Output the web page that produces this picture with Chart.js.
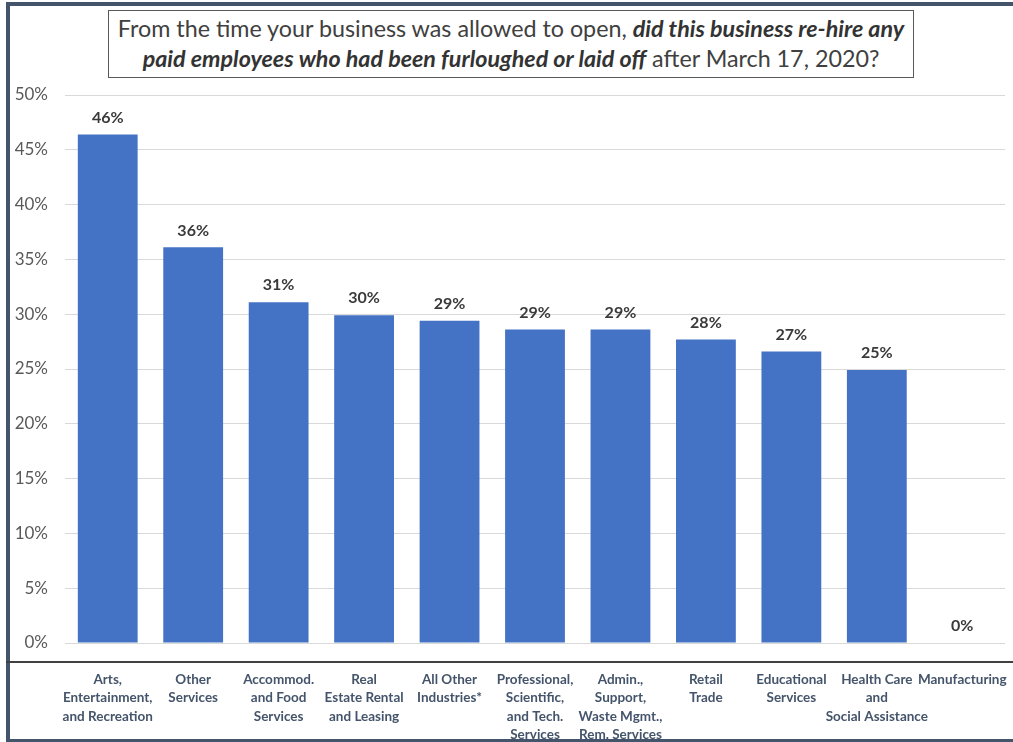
<!DOCTYPE html>
<html>
<head>
<meta charset="utf-8">
<script src="https://cdn.jsdelivr.net/npm/chart.js@4/dist/chart.umd.min.js"></script>
<style>
  html, body { margin: 0; padding: 0; background: #ffffff; }
  #wrap { position: relative; width: 1013px; height: 742px; overflow: hidden; }
  #chart { position: absolute; left: 0; top: 0; }
  #title {
    position: absolute; left: 108px; top: 10px; width: 804px; height: 64px;
    border: 1px solid #595959; background: #ffffff;
    font-family: Lato, "Noto Sans", sans-serif; font-size: 23.3px; line-height: 30px;
    color: #404040; text-align: center; padding-top: 2px; box-sizing: content-box;
    white-space: nowrap;
  }
  #title b { font-style: italic; color: #333333; }
</style>
</head>
<body>
<div id="wrap">
  <canvas id="chart" width="1013" height="742"></canvas>
  <div id="title">From the time your business was allowed to open, <b>did this business re-hire any</b><br><b>paid employees who had been furloughed or laid off</b> after March 17, 2020?</div>
</div>
<script>
// Industry categories (multi-line axis labels)
const categories = [
  ["Arts,", "Entertainment,", "and Recreation"],
  ["Other", "Services"],
  ["Accommod.", "and Food", "Services"],
  ["Real", "Estate Rental", "and Leasing"],
  ["All Other", "Industries*"],
  ["Professional,", "Scientific,", "and Tech.", "Services"],
  ["Admin.,", "Support,", "Waste Mgmt.,", "Rem. Services"],
  ["Retail", "Trade"],
  ["Educational", "Services"],
  ["Health Care", "and", "Social Assistance"],
  ["Manufacturing"]
];

// Share of businesses that re-hired furloughed / laid-off employees (%)
const rehiredShare = [46.4, 36.1, 31.1, 29.9, 29.4, 28.6, 28.6, 27.7, 26.6, 24.9, 0];

// Y axis range (%)
const yMin = 0;
const yMax = 50;
const yStep = 5;

const FRAME = '#44546a';

// Outer frame and the separator line between plot and category labels
const framePlugin = {
  id: 'frame',
  afterDraw(chart) {
    const ctx = chart.ctx;
    const w = chart.width, h = chart.height;
    ctx.save();
    ctx.fillStyle = FRAME;
    ctx.fillRect(6, 2, w - 6, 4);        // top edge
    ctx.fillRect(6, 2, 4, h - 2);        // left edge
    ctx.fillRect(6, h - 3, w - 6, 3);    // bottom edge
    ctx.fillStyle = '#404040';
    ctx.fillRect(6, chart.chartArea.bottom + 18, w - 6, 2);
    ctx.restore();
  }
};

// Percentage labels above each bar
const valueLabelPlugin = {
  id: 'valueLabels',
  afterDatasetsDraw(chart) {
    const ctx = chart.ctx;
    const meta = chart.getDatasetMeta(0);
    ctx.save();
    ctx.font = 'bold 16px Lato, "Noto Sans", sans-serif';
    ctx.fillStyle = '#3a3a3a';
    ctx.textAlign = 'center';
    ctx.textBaseline = 'middle';
    meta.data.forEach((bar, i) => {
      const v = chart.data.datasets[0].data[i];
      ctx.fillText(Math.round(v) + '%', bar.x, bar.y - 17);
    });
    ctx.restore();
  }
};

new Chart(document.getElementById('chart'), {
  type: 'bar',
  data: {
    labels: categories,
    datasets: [{
      data: rehiredShare,
      backgroundColor: '#4472c4',
      borderWidth: 0,
      barPercentage: 0.7,
      categoryPercentage: 1.0
    }]
  },
  options: {
    responsive: false,
    devicePixelRatio: 1,
    animation: false,
    layout: { padding: { top: 95, right: 8, left: 0, bottom: 0 } },
    plugins: {
      legend: { display: false },
      tooltip: { enabled: false }
    },
    scales: {
      x: {
        grid: { display: false, drawTicks: false },
        border: { display: false },
        ticks: {
          maxRotation: 0, minRotation: 0, autoSkip: false,
          padding: 27,
          color: '#44546a',
          font: { family: 'Lato, "Noto Sans", sans-serif', size: 13.5, weight: 'bold', lineHeight: 1.37 }
        },
        afterFit(scale) {
          scale.height = 99;
          scale.paddingLeft = 0;
          scale.paddingRight = 0;
        }
      },
      y: {
        min: yMin, max: yMax,
        grid: { color: '#d9d9d9', lineWidth: 1, drawTicks: false },
        border: { display: false },
        ticks: {
          stepSize: yStep,
          padding: 17,
          color: '#595959',
          font: { family: 'Lato, "Noto Sans", sans-serif', size: 17 },
          callback: (v) => v + '%'
        },
        afterFit(scale) {
          scale.width = 65;
          scale.paddingTop = 0;
          scale.paddingBottom = 0;
        }
      }
    }
  },
  plugins: [framePlugin, valueLabelPlugin]
});
</script>
</body>
</html>
